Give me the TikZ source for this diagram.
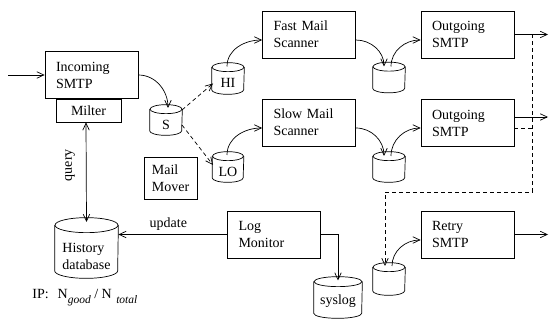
\documentclass[tikz,border=0pt]{standalone}
\usepackage{fontspec}
\setmainfont{Liberation Serif}
\usetikzlibrary{arrows.meta}

\tikzset{
  box/.style={draw, rectangle, minimum width=93pt, minimum height=47pt,
    text width=71pt, inner xsep=11pt, align=left},
  smallbox/.style={draw, rectangle, align=left, inner xsep=6pt},
  queue/.style={rectangle, minimum width=32pt, minimum height=30pt, inner sep=0pt},
  qtext/.style={label={[yshift=-4.5pt, align=left]center:#1}},
  lane/.style={dash pattern=on 4pt off 3pt},
}

\begin{document}
\begin{tikzpicture}
[x=1pt, y=1pt, line width=0.7pt, font=\fontsize{14}{17}\selectfont,
 >={Straight Barb[length=7pt,width=6.5pt]}]
\useasboundingbox (0,0) rectangle (549,-320);
%% boxes
\node (inc)    at (91.5,-75)   [box] {Incoming\\SMTP};
\node (milter) at (88.5,-110.5) [smallbox, minimum width=65pt, minimum height=23pt] {Milter};
\node (fast)   at (309,-34.5)  [box] {Fast Mail\\Scanner};
\node (slow)   at (309,-122.5) [box] {Slow Mail\\Scanner};
\node (out1)   at (467.5,-34.5) [box] {Outgoing\\SMTP};
\node (out2)   at (467.5,-123) [box] {Outgoing\\SMTP};
\node (retry)  at (467.5,-234.5) [box] {Retry\\SMTP};
\node (logmon) at (274,-234.5) [box] {Log\\Monitor};
\node (mover)  at (170.5,-178) [smallbox, minimum width=53pt, minimum height=42pt] {Mail\\Mover};
%% queues
\node (s)   at (166,-120)  [queue, qtext=S] {};
\node (hi)  at (228,-78.5) [queue, minimum height=31pt, qtext=HI] {};
\node (lo)  at (228,-167)  [queue, minimum width=31pt, qtext=LO] {};
\node (q1)  at (389,-77.5) [queue] {};
\node (q2)  at (389,-167)  [queue] {};
\node (qr)  at (389,-279)  [queue, minimum height=32pt] {};
\node (sys) at (338,-297.5) [queue, minimum width=48pt, minimum height=41pt,
  label={[yshift=-4pt]center:syslog}] {};
\node (hist) at (86.5,-248) [queue, minimum width=63pt, minimum height=60pt,
  label={[yshift=-8pt, align=left]center:History\\database}] {};
\foreach \n/\rx/\ry in {s/16/4.5, hi/16/4.5, lo/15.5/4.5, q1/16/4.5, q2/16/4.5,
                        qr/16/4.5, sys/24/5, hist/31.5/7.5}{
  \draw ([yshift=-\ry]\n.north) ellipse [x radius=\rx, y radius=\ry]; %% lid
  \draw ([yshift=-\ry]\n.north west) -- ([yshift=\ry]\n.south west)
    arc [start angle=180, end angle=360, x radius=\rx, y radius=\ry]
    -- ([yshift=-\ry]\n.north east); %% body
}
\node (ip) at (32,-299) [anchor=base west, inner sep=0pt]
  {IP:\hspace{9pt}N\raisebox{-5pt}{\fontsize{11.5}{13}\itshape good} / N\hspace{4.5pt}\raisebox{-5pt}{\fontsize{11.5}{13}\itshape total}};
%% free ends
\coordinate (src) at (8,-75);
\coordinate (o1) at (548,-34.5);
\coordinate (o2) at (548,-117);
\coordinate (o3) at (548,-234.5);
\coordinate (j1) at (532,-34.5);
\coordinate (j2) at (532,-128);
\coordinate (jq) at (385,-192);
%% connectors
\draw[->] (src) -- (inc);
\draw[->] (inc.east) to[out=0,in=90] ([xshift=2pt,yshift=12pt]s.center);
\draw[->,lane] ([xshift=16pt,yshift=10pt]s.center) -- ([xshift=-15pt,yshift=-5pt]hi.center); %% fast lane
\draw[->,lane] ([xshift=16pt,yshift=-5pt]s.center) -- ([xshift=-15pt,yshift=2pt]lo.center); %% slow lane
\draw[->] ([xshift=-1pt,yshift=12pt]hi.center) to[out=90,in=180] ([yshift=-5.5pt]fast.west);
\draw[->] ([xshift=-1pt,yshift=12pt]lo.center) to[out=90,in=180] ([yshift=-5.5pt]slow.west);
\draw[->] ([yshift=-5.5pt]fast.east) to[out=0,in=90] ([xshift=-5pt,yshift=11pt]q1.center);
\draw[->] ([xshift=2pt,yshift=11pt]q1.center) to[out=90,in=180] ([yshift=-5.5pt]out1.west);
\draw[->] ([yshift=-5.5pt]slow.east) to[out=0,in=90] ([xshift=-5pt,yshift=11pt]q2.center);
\draw[->] ([xshift=2pt,yshift=11pt]q2.center) to[out=90,in=180] ([yshift=-5pt]out2.west);
\draw[->] ([xshift=3pt,yshift=13pt]qr.center) to[out=90,in=180] ([yshift=-5.5pt]retry.west);
\draw[->] (out1) -- (o1);
\draw[->] ([yshift=6pt]out2.east) -- (o2);
\draw[->] (retry) -- (o3);
\draw[lane] ([yshift=-5pt]out2.east) -- (j2);
\draw[->,lane] (j1) |- (jq) -- ([xshift=-4pt,yshift=13pt]qr.center); %% retry path
\draw[->] (logmon.east) -| ([yshift=17pt]sys.center);
\draw[->] (logmon.west) -- node[pos=0.54, above] {update} (logmon.west -| hist.east);
\draw[<->] ([xshift=-2.5pt]milter.south) -- node[pos=0.43, rotate=90, anchor=south, inner sep=11pt] {query}
  ([yshift=26pt]hist.center);
\end{tikzpicture}
\end{document}
